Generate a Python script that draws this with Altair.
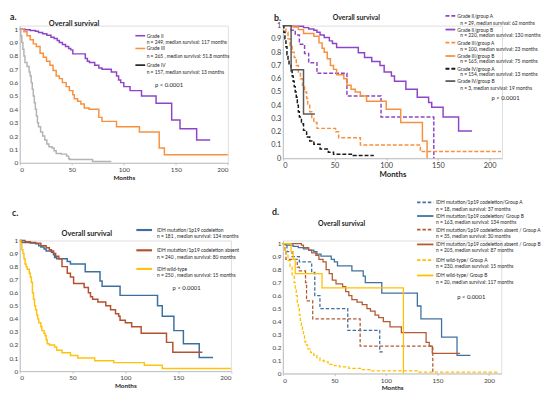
import altair as alt
import pandas as pd

# ---------------- data ----------------
# panel a
A_NAMES = ["Grade II", "Grade III", "Grade IV"]
A_G2_T = [0, 5, 10, 15, 18, 22, 26, 30, 33, 36, 38, 41, 44, 47, 49, 51, 63, 65, 67, 72, 76, 79, 88, 93, 95, 97, 100, 106, 117, 131, 146, 154, 170, 183]
A_G2_S = [1.0, 0.995, 0.99, 0.985, 0.975, 0.965, 0.955, 0.94, 0.93, 0.915, 0.9, 0.885, 0.87, 0.855, 0.845, 0.815, 0.78, 0.76, 0.75, 0.73, 0.71, 0.70, 0.68, 0.65, 0.62, 0.6, 0.57, 0.54, 0.50, 0.445, 0.32, 0.255, 0.17, 0.17]
A_G3_T = [0, 4, 7, 10, 13, 16, 19.5, 22.6, 25.7, 29, 32, 35, 38, 41, 44.6, 47.7, 51, 52.4, 55.6, 58.7, 62, 66.6, 76, 79, 93, 115, 134, 139, 200]
A_G3_S = [1.0, 0.98, 0.95, 0.92, 0.89, 0.87, 0.82, 0.79, 0.76, 0.73, 0.69, 0.65, 0.63, 0.60, 0.57, 0.54, 0.51, 0.48, 0.46, 0.44, 0.41, 0.40, 0.34, 0.31, 0.27, 0.23, 0.11, 0.06, 0.06]
A_G4_T = [0, 1, 2, 3, 4, 5, 7, 9, 10, 11, 12, 13, 14, 15, 16, 17, 18, 20, 22, 24, 26, 28, 31, 33, 35, 40, 45, 47, 48, 70, 88]
A_G4_S = [1.0, 0.95, 0.9, 0.85, 0.8, 0.75, 0.72, 0.68, 0.65, 0.6, 0.55, 0.5, 0.45, 0.4, 0.35, 0.3, 0.27, 0.23, 0.2, 0.17, 0.14, 0.12, 0.11, 0.09, 0.07, 0.065, 0.05, 0.03, 0.025, 0.01, 0.01]
A_LEG1 = ["Grade II", "Grade III", "Grade IV"]
A_LEG2 = ["n = 249, median survival: 117 months", "n = 265 , median survival: 51.8 months", "n = 157, median survival: 13 months"]

# panel b
B_NAMES = ["Grade II/group A", "Grade II/group B", "Grade III/group A", "Grade III/group B", "Grade IV/group A", "Grade IV/group B"]
B_G2A_T = [0, 8, 12, 16, 21, 25, 33, 62, 95, 146]
B_G2A_S = [1.0, 0.965, 0.93, 0.86, 0.79, 0.72, 0.64, 0.47, 0.31, 0.0]
B_G2B_T = [0, 10, 20, 25, 30, 33, 36, 40, 45, 48, 52, 73, 79, 86, 94, 98, 105, 108, 119, 130, 141, 144, 155, 170, 183]
B_G2B_S = [1.0, 0.995, 0.985, 0.975, 0.965, 0.95, 0.93, 0.91, 0.885, 0.865, 0.835, 0.795, 0.76, 0.73, 0.70, 0.65, 0.62, 0.58, 0.52, 0.46, 0.42, 0.385, 0.31, 0.205, 0.205]
B_G3A_T = [0, 3, 5, 7, 9, 11, 13, 15, 17, 19, 21, 23, 24, 26, 28, 30, 33, 51, 54, 75, 133, 211]
B_G3A_S = [1.0, 0.95, 0.9, 0.85, 0.8, 0.76, 0.7, 0.65, 0.6, 0.55, 0.5, 0.45, 0.4, 0.35, 0.3, 0.27, 0.225, 0.2, 0.155, 0.1, 0.05, 0.05]
B_G3B_T = [0, 10, 15, 20, 30, 35, 38, 40, 43, 46, 49, 52, 59, 62, 66, 70, 75, 81, 100, 114, 135, 139.5]
B_G3B_S = [1.0, 0.99, 0.97, 0.94, 0.92, 0.87, 0.83, 0.80, 0.75, 0.70, 0.67, 0.63, 0.60, 0.55, 0.52, 0.50, 0.47, 0.43, 0.37, 0.27, 0.13, 0.0]
B_G4A_T = [0, 1, 2, 3, 4, 5, 6, 8, 9, 10, 11, 12, 13, 14, 15, 16, 18, 20, 23, 26, 30, 36, 44, 49, 68, 88]
B_G4A_S = [1.0, 0.95, 0.9, 0.84, 0.78, 0.74, 0.7, 0.66, 0.62, 0.58, 0.54, 0.5, 0.46, 0.4, 0.35, 0.31, 0.26, 0.21, 0.16, 0.13, 0.105, 0.07, 0.045, 0.03, 0.02, 0.02]
B_G4B_T = [0, 8, 20, 31]
B_G4B_S = [1.0, 0.667, 0.333, 0.333]
B_LEG2 = ["n = 29, median survival: 62 months", "n = 220, median survival: 130 months",
          "n = 100, median survival: 23 months", "n = 165, median survival: 75 months",
          "n = 154, median survival: 13 months", "n = 3, median survival: 19 months"]

# panel c
C_NAMES = ["IDH mutation/1p19 codeletion", "IDH mutation/1p19 codeletion absent", "IDH wild-type"]
C_CO_T = [0, 2, 10, 15, 18, 20, 23, 25, 30, 32, 33, 35, 45, 48, 62, 76, 78, 95, 130.5, 135, 146, 155, 170, 183]
C_CO_S = [1.0, 0.985, 0.98, 0.975, 0.96, 0.95, 0.935, 0.92, 0.91, 0.89, 0.87, 0.86, 0.84, 0.82, 0.76, 0.69, 0.65, 0.58, 0.5, 0.42, 0.31, 0.21, 0.105, 0.105]
C_AB_T = [0, 5, 10, 15, 20, 25, 28, 30, 32, 34, 37, 40, 45, 48, 51, 61, 65, 67, 69, 74, 81.5, 86, 90.7, 93.7, 95, 100, 106, 115, 139, 145, 173]
C_AB_S = [1.0, 0.99, 0.985, 0.98, 0.96, 0.945, 0.93, 0.92, 0.9, 0.88, 0.86, 0.8, 0.75, 0.72, 0.67, 0.64, 0.6, 0.57, 0.55, 0.53, 0.50, 0.47, 0.44, 0.42, 0.39, 0.37, 0.34, 0.29, 0.22, 0.145, 0.145]
C_WT_T = [0, 1, 2, 3, 4, 5, 6, 7, 9, 10, 11, 12, 13, 14, 15, 16, 17, 18, 20, 21, 23, 24, 25, 26, 28, 33, 35, 40, 48, 55, 71, 89, 118, 135, 200]
C_WT_S = [1.0, 0.97, 0.93, 0.9, 0.86, 0.82, 0.8, 0.78, 0.75, 0.72, 0.68, 0.6, 0.55, 0.5, 0.47, 0.43, 0.4, 0.37, 0.34, 0.31, 0.29, 0.27, 0.24, 0.21, 0.2, 0.185, 0.16, 0.14, 0.12, 0.10, 0.08, 0.065, 0.045, 0.02, 0.02]
C_LEG2 = ["n = 181 , median survival: 134 months", "n = 240 , median survival: 80 months", "n = 250 , median survival: 15 months"]

# panel d
D_NAMES = ["IDH mutation/1p19 codeletion/Group A", "IDH mutation/1p19 codeletion/ Group B",
           "IDH mutation/1p19 codeletion absent / Group A", "IDH mutation/1p19 codeletion absent / Group B",
           "IDH  wild-type/ Group A", "IDH  wild-type/ Group B"]
D_COA_T = [0, 4, 9, 16, 28, 31, 36, 63, 94, 97]
D_COA_S = [1.0, 0.94, 0.9, 0.86, 0.78, 0.6, 0.5, 0.333, 0.167, 0.167]
D_COB_T = [0, 3, 10, 15, 20, 25, 30, 33, 37, 47, 50, 53, 67, 78, 80, 96, 130.5, 134, 154, 169, 182]
D_COB_S = [1.0, 0.99, 0.98, 0.97, 0.96, 0.95, 0.94, 0.92, 0.905, 0.88, 0.86, 0.83, 0.79, 0.75, 0.70, 0.62, 0.52, 0.42, 0.28, 0.14, 0.14]
D_ABA_T = [0, 2, 3, 14, 16, 22, 23, 29, 75, 145.5]
D_ABA_S = [1.0, 0.94, 0.88, 0.82, 0.79, 0.7, 0.56, 0.42, 0.21, 0.0]
D_ABB_T = [0, 18, 20, 25, 28, 32, 35, 39, 42, 45, 48, 51.6, 58, 61, 64, 67, 72, 77, 81.6, 85, 89.5, 93, 97.5, 104, 115, 139, 142, 145, 172]
D_ABB_S = [1.0, 0.99, 0.97, 0.95, 0.93, 0.91, 0.88, 0.86, 0.80, 0.77, 0.72, 0.69, 0.67, 0.63, 0.60, 0.57, 0.55, 0.53, 0.50, 0.48, 0.45, 0.43, 0.40, 0.36, 0.315, 0.24, 0.21, 0.155, 0.155]
D_WTA_T = [0, 1, 2, 3, 5, 7, 9, 11, 12, 13, 14, 15, 16, 17, 18, 19, 20, 21, 22, 24, 27, 30, 33, 36, 40, 44, 50, 55, 64, 77, 86, 132, 210]
D_WTA_S = [1.0, 0.97, 0.94, 0.91, 0.87, 0.82, 0.76, 0.7, 0.65, 0.6, 0.55, 0.5, 0.45, 0.41, 0.37, 0.33, 0.29, 0.25, 0.22, 0.19, 0.16, 0.14, 0.12, 0.1, 0.09, 0.07, 0.06, 0.05, 0.04, 0.03, 0.02, 0.01, 0.01]
D_WTB_T = [0, 8, 10, 12, 38, 117]
D_WTB_S = [1.0, 0.94, 0.88, 0.77, 0.66, 0.0]
D_LEG2 = ["n = 18, median survival: 37 months", "n = 163, median survival: 134 months",
          "n = 35, median survival: 30 months", "n = 205, median survival: 87 months",
          "n = 230, median survival: 15 months", "n = 20, median survival: 117 months"]

Y_TICKS = [0, 0.1, 0.2, 0.3, 0.4, 0.5, 0.6, 0.7, 0.8, 0.9, 1]
X_TICKS = [0, 50, 100, 150, 200]

FONT = "Lato"
TXT = "#262626"
ONE = pd.DataFrame({"k": [0]})


def curves_df(names, ts_list, ss_list):
    rows = []
    for name, ts, ss in zip(names, ts_list, ss_list):
        for t, s in zip(ts, ss):
            rows.append({"series": name, "t": t, "s": s})
    return pd.DataFrame(rows)


def txt(x, y, s, size=5, weight="normal", align="left"):
    return alt.Chart(ONE).mark_text(text=s, fontSize=size, fontWeight=weight, align=align,
                                    baseline="middle", color=TXT, font=FONT).encode(
        x=alt.value(x), y=alt.value(y))


def swatch(x1, x2, y, color, dash, width=1.6):
    m = dict(color=color, strokeWidth=width)
    if dash:
        m["strokeDash"] = dash
    return alt.Chart(ONE).mark_rule(**m).encode(x=alt.value(x1), x2=alt.value(x2), y=alt.value(y))


def curves(df, names, colors, dashes, xdom, ydom, sw, fs, title_pad, title_size):
    return alt.Chart(df).mark_line(interpolate="step-after", strokeWidth=sw).encode(
        x=alt.X("t:Q", scale=alt.Scale(domain=xdom, nice=False, zero=False),
                axis=alt.Axis(values=X_TICKS, title="Months", titleFontWeight="bold",
                              titleFontSize=title_size, titlePadding=title_pad, titleColor=TXT,
                              labelFontSize=fs, labelColor="#404040", labelPadding=2,
                              tickSize=2, tickColor="#bfbfbf", domainColor="#bfbfbf",
                              grid=False, labelFont=FONT, titleFont=FONT)),
        y=alt.Y("s:Q", scale=alt.Scale(domain=ydom, nice=False, zero=False),
                axis=alt.Axis(values=Y_TICKS, format=".1~f", title=None, labelFontSize=fs,
                              labelColor="#404040", labelPadding=2, ticks=False,
                              domainColor="#bfbfbf", grid=False, labelFont=FONT)),
        color=alt.Color("series:N", scale=alt.Scale(domain=names, range=colors), legend=None),
        strokeDash=alt.StrokeDash("series:N", scale=alt.Scale(domain=names, range=dashes), legend=None),
    )


# ---------------- panel a ----------------
A_COLORS = ["#8e44c8", "#f7903f", "#b3b3b3"]
a_df = curves_df(A_NAMES, [A_G2_T, A_G3_T, A_G4_T], [A_G2_S, A_G3_S, A_G4_S])
a_layers = [curves(a_df, A_NAMES, A_COLORS, [[1, 0]] * 3, [0, 200], [0, 1.0264], 1.5, 6.5, 1.5, 6.5)]
a_layers += [txt(-10, -8.7, "a.", 9, "bold"), txt(55.5, -1.7, "Overall survival", 7.5, "bold", "center")]
a_leg_colors = ["#8e44c8", "#f7903f", "#111111"]
for i, (y1, y2) in enumerate([(10.3, 16.3), (23.3, 31.3), (40.3, 47.3)]):
    a_layers.append(swatch(118, 128, y1, a_leg_colors[i], None))
    a_layers.append(txt(129.5, y1, A_LEG1[i]))
    a_layers.append(txt(129.5, y2, A_LEG2[i]))
a_layers.append(txt(138, 60.3, "p < 0.0001", 6))
panel_a = alt.layer(*a_layers).properties(width=212.4, height=140)

# ---------------- panel b ----------------
B_COLORS = ["#8e44c8", "#8e44c8", "#f7903f", "#f7903f", "#1a1a1a", "#595959"]
B_DASH = [[4, 2], [1, 0], [4, 2], [1, 0], [4, 2], [1, 0]]
b_df = curves_df(B_NAMES, [B_G2A_T, B_G2B_T, B_G3A_T, B_G3B_T, B_G4A_T, B_G4B_T],
                 [B_G2A_S, B_G2B_S, B_G3A_S, B_G3B_S, B_G4A_S, B_G4B_S])
b_layers = [curves(b_df, B_NAMES, B_COLORS, B_DASH, [0, 212], [0, 1], 1.5, 7.5, 1.5, 8)]
b_layers += [txt(-9, -8.2, "b.", 9, "bold"), txt(75, -7.7, "Overall survival", 7, "bold", "center")]
b_rows = [(-10, -2.7), (4, 10), (17.3, 24), (31, 36.6), (44, 49.3), (56.6, 63.3)]
for i, (y1, y2) in enumerate(b_rows):
    b_layers.append(swatch(166, 176, y1, B_COLORS[i], B_DASH[i] if i % 2 == 0 else None, 1.8))
    b_layers.append(txt(178, y1, B_NAMES[i]))
    b_layers.append(txt(181, y2, B_LEG2[i]))
b_layers.append(txt(213, 74, "p < 0.0001", 6))
panel_b = alt.layer(*b_layers).properties(width=223.7, height=135.3)

# ---------------- panel c ----------------
C_COLORS = ["#3b6fa1", "#b4502d", "#ffc20e"]
c_df = curves_df(C_NAMES, [C_CO_T, C_AB_T, C_WT_T], [C_CO_S, C_AB_S, C_WT_S])
c_layers = [curves(c_df, C_NAMES, C_COLORS, [[1, 0]] * 3, [0, 200], [0, 1], 1.5, 6.5, 1.5, 6.5)]
c_layers += [txt(-8, -28, "c.", 9, "bold"), txt(68.5, -7, "Overall survival", 7.5, "bold", "center")]
for i, (y1, y2) in enumerate([(-10.7, -4.3), (10, 16.7), (29, 35)]):
    c_layers.append(swatch(119, 135, y1, C_COLORS[i], None, 2.2))
    c_layers.append(txt(140, y1, C_NAMES[i]))
    c_layers.append(txt(140, y2, C_LEG2[i]))
c_layers.append(txt(156, 49, "p < 0.0001", 6))
panel_c = alt.layer(*c_layers).properties(width=215.5, height=133.3)

# ---------------- panel d ----------------
D_COLORS = ["#3f70a0", "#3f70a0", "#b25a33", "#b25a33", "#ffc000", "#ffc000"]
D_DASH = [[3.5, 2], [1, 0], [3.5, 2], [1, 0], [3.5, 2], [1, 0]]
d_df = curves_df(D_NAMES, [D_COA_T, D_COB_T, D_ABA_T, D_ABB_T, D_WTA_T, D_WTB_T],
                 [D_COA_S, D_COB_S, D_ABA_S, D_ABB_S, D_WTA_S, D_WTB_S])
d_layers = [curves(d_df, D_NAMES, D_COLORS, D_DASH, [0, 212], [0, 1.0249], 1.3, 6.5, 1, 6.5)]
d_layers += [txt(-11, -29, "d.", 9, "bold"), txt(60, -17, "Overall survival", 7, "bold", "center")]
d_rows = [(-39, -32.3), (-25, -19), (-11, -5), (4, 9.3), (20, 26), (35.7, 42.3)]
for i, (y1, y2) in enumerate(d_rows):
    d_layers.append(swatch(137, 153.7, y1, D_COLORS[i], D_DASH[i] if i % 2 == 0 else None, 1.8))
    d_layers.append(txt(156.3, y1, D_NAMES[i]))
    d_layers.append(txt(156.3, y2, D_LEG2[i]))
d_layers.append(txt(178, 57.7, "p < 0.0001", 6))
panel_d = alt.layer(*d_layers).properties(width=223, height=135.7)

chart = alt.concat(panel_a, panel_b, panel_c, panel_d, columns=2,
                   spacing={"row": 79.3, "column": 52.5}, bounds="flush", align="each").resolve_scale(
    x="independent", y="independent", color="independent", strokeDash="independent"
).properties(
    padding={"left": 0, "top": 0, "right": 0, "bottom": 0}
).configure_view(stroke=None).configure(font=FONT)

chart.save("out.html", embed_options={"renderer": "svg", "actions": False})
